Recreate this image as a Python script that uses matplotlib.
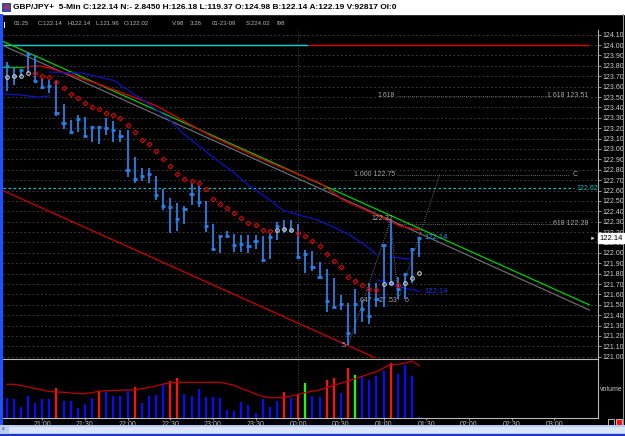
import numpy as np
import matplotlib
matplotlib.use("Agg")
import matplotlib.pyplot as plt
from matplotlib.patches import Rectangle

plt.rcParams['font.family'] = ['Liberation Sans', 'DejaVu Sans']

W, H = 625, 436

# ---- 5-min bars GBP/JPY, first bar 20:35, last 01:25 ----
highs = [123.84, 123.79, 123.77, 123.93, 123.90, 123.68, 123.66, 123.65, 123.43, 123.28,
         123.33, 123.31, 123.21, 123.21, 123.30, 123.27, 123.18, 123.18, 122.92, 122.82,
         122.82, 122.74, 122.61, 122.53, 122.48, 122.45, 122.67, 122.64, 122.50, 122.28,
         122.16, 122.21, 122.18, 122.17, 122.17, 122.17, 122.16, 122.19, 122.30, 122.32,
         122.32, 122.28, 122.03, 122.02, 121.91, 121.84, 121.76, 121.59, 121.52, 121.65,
         121.55, 121.71, 121.71, 122.09, 122.32, 121.77, 121.81, 122.05, 122.14]
lows = [123.56, 123.62, 123.69, 123.73, 123.65, 123.58, 123.54, 123.32, 123.19, 123.14,
        123.16, 123.11, 123.07, 123.05, 123.13, 123.07, 123.07, 122.73, 122.67, 122.69,
        122.67, 122.51, 122.41, 122.19, 122.21, 122.28, 122.46, 122.44, 122.20, 122.03,
        122.00, 122.15, 122.01, 122.01, 122.00, 122.04, 121.92, 121.94, 122.12, 122.19,
        122.20, 121.94, 121.81, 121.83, 121.76, 121.43, 121.47, 121.45, 121.11, 121.22,
        121.33, 121.32, 121.48, 121.48, 121.71, 121.56, 121.56, 121.71, 121.96]
closes = [123.80, 123.70, 123.76, 123.91, 123.65, 123.60, 123.61, 123.35, 123.25, 123.16,
          123.29, 123.12, 123.21, 123.21, 123.20, 123.18, 123.12, 122.80, 122.71, 122.74,
          122.76, 122.56, 122.45, 122.44, 122.33, 122.42, 122.57, 122.49, 122.26, 122.04,
          122.16, 122.16, 122.08, 122.09, 122.07, 122.11, 121.93, 122.15, 122.26, 122.23,
          122.22, 121.96, 121.99, 121.86, 121.77, 121.54, 121.48, 121.51, 121.23, 121.51,
          121.46, 121.39, 121.56, 122.08, 121.71, 121.65, 121.80, 122.04, 122.14]

# red diamond stop dots
sar_idx = list(range(4, 38)) + list(range(41, 53)) + [55]
sar_vals = [123.73, 123.70, 123.69, 123.64, 123.59, 123.53, 123.49, 123.44, 123.40, 123.38,
            123.35, 123.33, 123.30, 123.23, 123.16, 123.09, 123.05, 122.98, 122.90, 122.84,
            122.76, 122.71, 122.69, 122.67, 122.61, 122.52, 122.47, 122.43, 122.38, 122.34,
            122.29, 122.27, 122.22, 122.21,
            122.19, 122.16, 122.11, 122.07, 121.99, 121.92, 121.86, 121.77, 121.73, 121.69,
            121.65, 121.64,
            121.69]
# grey circle dots
dot_idx = [0, 1, 2, 3, 38, 39, 40, 53, 54, 56, 57, 58]
dot_vals = [123.69, 123.70, 123.70, 123.73, 122.22, 122.23, 122.22, 121.70, 121.71, 121.71,
            121.76, 121.81]

# moving averages (bar index, price)
ma_red_x = [2.5, 4.4, 6.0, 13.1, 20.9, 28.6, 36.6, 44.1, 47.3, 52.5, 55.3, 58.1]
ma_red_y = [123.79, 123.80, 123.78, 123.62, 123.42, 123.13, 122.88, 122.67, 122.51, 122.35,
            122.26, 122.22]
ma_green_x = [-0.5, 2.5]
ma_green_y = [123.79, 123.79]
ma_blue_x = [6.0, 10.7, 15.0, 19.2, 22.6, 24.8, 27.2, 29.6, 31.8, 34.2, 36.6, 38.9, 41.3,
             43.6, 45.9, 48.3, 50.7, 52.1]
ma_blue_y = [123.74, 123.73, 123.66, 123.47, 123.30, 123.15, 123.02, 122.89, 122.78, 122.64,
             122.53, 122.41, 122.36, 122.32, 122.25, 122.17, 122.06, 121.98]
ma_blue0_x = [-0.5, 1.9, 4.2, 6.0]
ma_blue0_y = [123.53, 123.52, 123.50, 123.51]
ma_blue1_x = [53.9, 56.7]
ma_blue1_y = [121.96, 121.94]
ma_blue2_x = [52.1, 53.9, 56.0, 58.1]
ma_blue2_y = [121.74, 121.71, 121.66, 121.63]

# trend / channel lines
trend_x = [-0.66, 81.94]
green_y = [124.04, 121.50]
grey_y = [124.00, 121.45]
chan_x = [-0.52, 52.0]
chan_y = [122.60, 120.985]

# pattern points X-A-B-C
pat_x = [48.05, 54.0, 55.08, 60.94]
pat_y = [121.11, 122.32, 121.55, 122.76]

volume = [203, 187, 107, 220, 153, 187, 187, 297, 170, 170, 103, 140, 203, 273, 263, 223,
          223, 270, 307, 153, 220, 230, 330, 370, 397, 240, 220, 287, 207, 207, 203, 80, 67,
          163, 130, 53, 190, 110, 170, 263, 197, 240, 347, 220, 213, 380, 397, 253, 503, 430,
          407, 380, 420, 470, 547, 440, 530, 423, 13]
vol_kind = list("bbbbbbbrbbbbbrbbbbrbbbbrrbbbbbbbbbbbbbbrbrgbbrrbrgbbbbrbbbb")
vol_ma = [337, 337, 325, 310, 295, 280, 265, 260, 258, 250, 245, 242, 255, 268, 273, 276,
          278, 280, 282, 295, 305, 320, 340, 350, 357, 357, 357, 357, 357, 357, 357, 342,
          328, 295, 270, 240, 215, 203, 203, 204, 220, 235, 255, 268, 280, 305, 327, 348,
          370, 393, 417, 440, 463, 500, 537, 537, 550, 570, 523]

time_idx = list(range(5, 78, 6))
time_labels = ["21:00", "21:30", "22:00", "22:30", "23:00", "23:30", "00:00", "00:30",
               "01:00", "01:30", "02:00", "02:30", "03:00"]
levels = np.round(np.arange(121.0, 124.11, 0.1), 2)

idx = np.arange(len(highs))


def rect(x0, y0, x1, y1):
    return [x0 / W, 1 - y1 / H, (x1 - x0) / W, (y1 - y0) / H]


fig = plt.figure(figsize=(W / 100, H / 100), dpi=100, facecolor='black')

# ---- price panel ----
ax = fig.add_axes(rect(3, 30, 598, 358))
ax.set_facecolor('black')
ax.set_xlim(-0.52, 83.16)
ax.set_ylim(120.988, 124.145)
ax.yaxis.tick_right()
ax.set_yticks(levels)
ax.set_yticklabels([f"{v:.2f}" for v in levels])
ax.tick_params(axis='y', colors='#b0b0b0', labelcolor='#d0d0d0', labelsize=5,
               length=2, width=0.6, pad=1)
ax.set_xticks([])
for s in ['top', 'left', 'bottom']:
    ax.spines[s].set_visible(False)
ax.spines['right'].set_color('#b0b0b0')
ax.spines['right'].set_linewidth(0.8)
ax.yaxis.grid(True, color='#484848', lw=0.6, ls=(0, (2, 3)))
ax.set_axisbelow(True)
ax.axvline(41, color='#5a5a5a', lw=0.6, ls=(0, (1, 2)))

ax.hlines(124.00, -0.52, 42.4, color='#00d8d8', lw=1.0)
ax.hlines(124.00, 42.4, 81.9, color='#e00000', lw=1.0)
ax.hlines(122.62, -0.52, 79.8, color='#00c8c8', lw=0.9, ls=(0, (2, 2)))
ax.text(80.1, 122.62, "122.62", color='#00c8c8', fontsize=5, va='center')

ax.plot(trend_x, grey_y, color='#6a6a6a', lw=0.9)
ax.plot(trend_x, green_y, color='#00d000', lw=0.9)
ax.plot(chan_x, chan_y, color='#d00000', lw=0.9)
ax.plot(ma_green_x, ma_green_y, color='#00c000', lw=1.0)
ax.plot(ma_red_x, ma_red_y, color='#d00000', lw=1.0)
ax.plot(ma_blue0_x, ma_blue0_y, color='#1010c8', lw=0.9)
ax.plot(ma_blue_x, ma_blue_y, color='#1010c8', lw=0.9)
ax.plot(ma_blue1_x, ma_blue1_y, color='#1010c8', lw=0.9)
ax.plot(ma_blue2_x, ma_blue2_y, color='#1010c8', lw=0.9)

# fibonacci levels
fib_col = '#8a8a8a'
ax.hlines(123.51, 54.9, 76.0, color=fib_col, lw=0.6, ls=(0, (1, 1.5)))
ax.hlines(122.75, 54.9, 79.2, color=fib_col, lw=0.6, ls=(0, (1, 1.5)))
ax.hlines(122.28, 54.9, 76.8, color=fib_col, lw=0.6, ls=(0, (1, 1.5)))
ax.text(54.6, 123.51, "1.618", color='#a8a8a8', fontsize=5, ha='right', va='center')
ax.text(81.8, 123.51, "1.618 123.51", color='#a8a8a8', fontsize=5, ha='right', va='center')
ax.text(54.6, 122.75, "1.000 122.75", color='#a8a8a8', fontsize=5, ha='right', va='center')
ax.text(79.6, 122.75, "C", color='#a8a8a8', fontsize=5, va='center')
ax.text(81.8, 122.28, ".618 122.28", color='#a8a8a8', fontsize=5, ha='right', va='center')

ax.plot(pat_x, pat_y, color='#8a8a8a', lw=0.6, ls=(0, (1, 1.5)))
ax.text(47.6, 121.11, "5", color='#a8a8a8', fontsize=5, ha='right', va='center')
ax.text(50.4, 121.54, ".647", color='#a8a8a8', fontsize=5, ha='center', va='center')
ax.text(52.8, 121.54, "27", color='#a8a8a8', fontsize=5, ha='center', va='center')
ax.text(54.3, 121.54, ".53", color='#a8a8a8', fontsize=5, ha='center', va='center')
ax.text(56.2, 121.54, "6", color='#a8a8a8', fontsize=5, ha='center', va='center')
ax.text(52.8, 122.33, "122.32", color='#a8a8a8', fontsize=5, ha='center', va='center')

# bars
bar_col = '#2a80e8'
ax.vlines(idx, lows, highs, color=bar_col, lw=1.3, zorder=4)
ax.hlines(closes, idx - 0.3, idx + 0.3, color=bar_col, lw=2.0, zorder=4)
ax.plot(sar_idx, sar_vals, ls='none', marker='D', ms=2.4, mfc='none', mec='#e00000',
        mew=0.8, zorder=5)
ax.plot(dot_idx, dot_vals, ls='none', marker='o', ms=2.6, mfc='none', mec='#c8c8c8',
        mew=0.8, zorder=5)

ax.text(58.7, 122.15, "122.14", color='#3090ff', fontsize=5.5, va='center')
ax.text(58.7, 121.63, "122.14", color='#2030ff', fontsize=5.5, va='center')
ax.annotate('', xy=(83.1, 122.14), xytext=(81.9, 122.14), annotation_clip=False,
            arrowprops=dict(arrowstyle='-|>', color='#c0c0c0', lw=0.6, mutation_scale=4))

# ---- volume panel ----
ax2 = fig.add_axes(rect(3, 359, 598, 418))
ax2.set_facecolor('black')
ax2.set_xlim(-0.52, 83.16)
ax2.set_ylim(0, 590)
kind_col = {'b': '#0a0aff', 'r': '#ff1010', 'g': '#10ff10'}
ax2.vlines(idx, 0, volume, colors=[kind_col[k] for k in vol_kind], lw=1.6)
ax2.plot(idx, vol_ma, color='#c00000', lw=0.9)
ax2.axvline(41, color='#5a5a5a', lw=0.6, ls=(0, (1, 2)))
ax2.set_yticks([])
ax2.set_xticks(time_idx)
ax2.set_xticklabels(time_labels)
ax2.tick_params(axis='x', colors='#b0b0b0', labelcolor='#c8c8c8', labelsize=5,
                length=1.5, width=0.6, pad=0.5)
ax2.spines['left'].set_visible(False)
for s in ['top', 'bottom', 'right']:
    ax2.spines[s].set_color('#b8b8b8')
    ax2.spines[s].set_linewidth(0.8)
fig.text(600 / W, 1 - 389 / H, "volume", color='#c8c8c8', fontsize=5, va='center')

# ---- header ----
fig.add_artist(Rectangle((0, 1 - 14 / H), 1, 14 / H, transform=fig.transFigure,
                         color='white', zorder=0))
fig.add_artist(Rectangle((2 / W, 1 - 11 / H), 8 / W, 8 / H, transform=fig.transFigure,
                         facecolor='#2050d0', edgecolor='#202020', lw=0.5))
fig.add_artist(Rectangle((5 / W, 1 - 9 / H), 4 / W, 4 / H, transform=fig.transFigure,
                         facecolor='#e02020', lw=0))
fig.text(13 / W, 1 - 7.5 / H,
         "GBP/JPY+  5-Min C:122.14 N:- 2.8450 H:126.18 L:119.37 O:124.98 "
         "B:122.14 A:122.19 V:92817 OI:0",
         color='black', fontsize=6.0, fontweight='bold', va='center')
row2 = [(14, "01:25"), (38, "C:122.14"), (67, "H122.14"), (96, "L:121.96"),
        (124, "O:122.02"), (172, "V:98"), (190, "3:26"), (212, "01-23-09"),
        (246, "S:224.02"), (276, "I98")]
for x, s in row2:
    fig.text(x / W, 1 - 23.5 / H, s, color='#b8b8b8', fontsize=4.4, va='center')
fig.add_artist(Rectangle((3.5 / W, 1 - 28 / H), 1.2 / W, 6 / H, transform=fig.transFigure,
                         color='white', lw=0))

# window borders
fig.add_artist(Rectangle((0, 1 - 425 / H), 2.5 / W, 411 / H, transform=fig.transFigure,
                         color='#2050ff', lw=0))
fig.add_artist(Rectangle((623 / W, 1 - 425 / H), 1 / W, 411 / H, transform=fig.transFigure,
                         color='#909090', lw=0))
fig.add_artist(Rectangle((608 / W, 1 - 424.5 / H), 6 / W, 6 / H, transform=fig.transFigure,
                         facecolor='black', edgecolor='#d0d0d0', lw=0.6))
fig.add_artist(Rectangle((616 / W, 1 - 424.5 / H), 6 / W, 6 / H, transform=fig.transFigure,
                         facecolor='#ff1010', edgecolor='#d0d0d0', lw=0.6))

# price tag on axis
fig.text(611 / W, 1 - 238 / H, "122.14", color='black', fontsize=5.5, ha='center',
         va='center', bbox=dict(boxstyle='square,pad=0.15', fc='white', ec='white'))

# scrollbar
sb = fig.add_axes(rect(0, 425, 625, 436), zorder=10)
sb.set_axis_off()
sb.set_xlim(0, W)
sb.set_ylim(11, 0)
sb.add_patch(Rectangle((0, 0), W, 11, color='#b8cbf0', lw=0))
sb.add_patch(Rectangle((9, 1.5), W - 9, 6.5, color='#dae4fa', lw=0))
sb.add_patch(Rectangle((0, 9), W, 2, color='#1838c8', lw=0))
sb.text(3, 4.5, "‹", color='#203070', fontsize=6, ha='center', va='center')

fig.savefig("out.png", dpi=100, facecolor='black')
